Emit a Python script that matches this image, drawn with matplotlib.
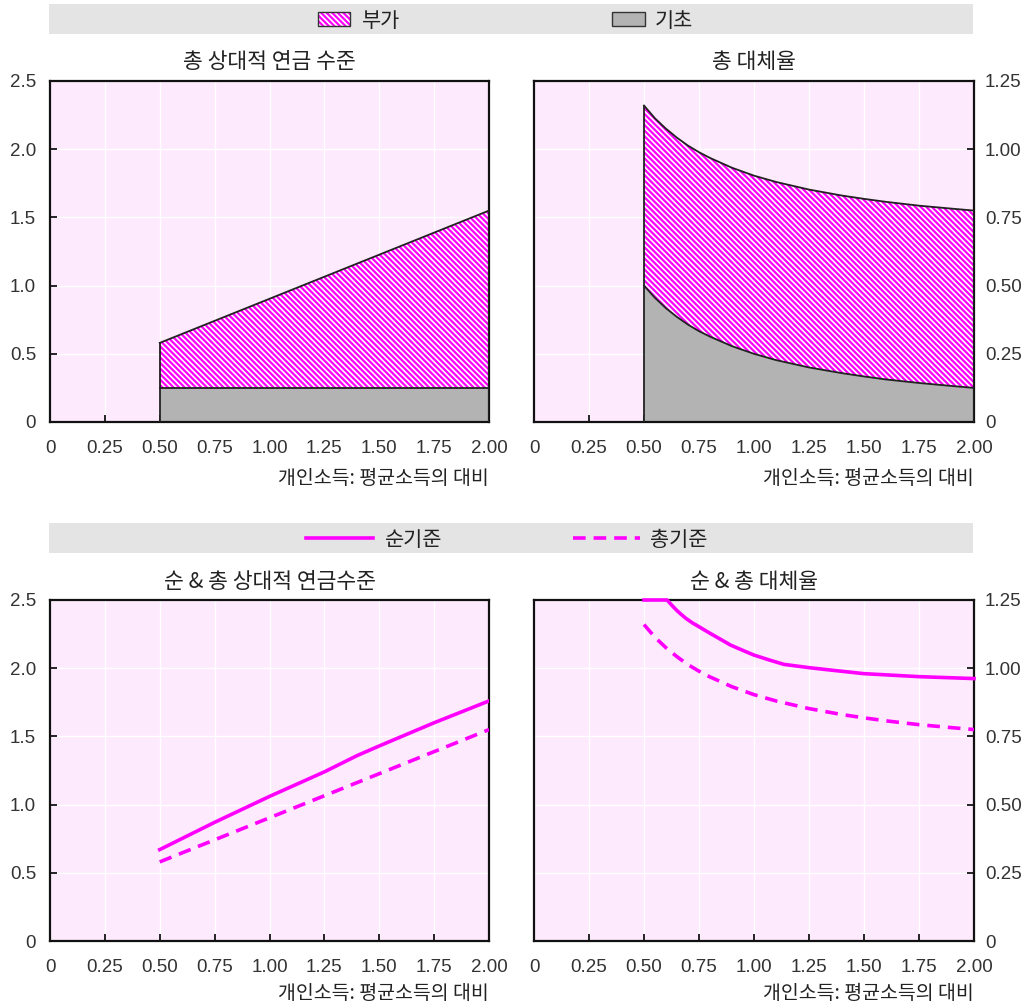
import numpy as np
import matplotlib
matplotlib.use("Agg")
import matplotlib.pyplot as plt
from matplotlib.patches import Rectangle
from matplotlib.lines import Line2D

plt.rcParams['font.family'] = ['Noto Sans CJK KR', 'DejaVu Sans']
plt.rcParams['hatch.linewidth'] = 1.2

# --- data ---
x_level = [0.50, 2.00]
base_level = [0.25, 0.25]          # 기초
gross_level = [0.58, 1.55]         # 부가 top (total gross)

x_rate = [0.50, 0.55, 0.60, 0.65, 0.70, 0.75, 0.80, 0.90, 1.00,
          1.10, 1.25, 1.40, 1.50, 1.60, 1.75, 1.90, 2.00]
base_rate = [0.500, 0.455, 0.417, 0.385, 0.357, 0.333, 0.313, 0.278, 0.250,
             0.227, 0.200, 0.179, 0.167, 0.156, 0.143, 0.132, 0.125]
gross_rate = [1.160, 1.113, 1.075, 1.042, 1.013, 0.989, 0.968, 0.932, 0.903,
              0.880, 0.852, 0.830, 0.818, 0.807, 0.793, 0.782, 0.775]

x_net_level = [0.50, 0.75, 1.00, 1.25, 1.40, 1.50, 1.75, 2.00]
net_level = [0.67, 0.87, 1.06, 1.24, 1.36, 1.43, 1.60, 1.76]

x_net_rate = [0.50, 0.605, 0.625, 0.645, 0.665, 0.69, 0.72, 0.75, 0.80, 0.85,
              0.893, 0.95, 1.00, 1.07, 1.136, 1.25, 1.35, 1.50, 1.75, 2.00]
net_rate = [1.25, 1.25, 1.232, 1.215, 1.200, 1.183, 1.166, 1.152, 1.128, 1.105,
            1.085, 1.065, 1.048, 1.030, 1.014, 1.002, 0.993, 0.980, 0.969, 0.962]

x_ticks = [0, 0.25, 0.5, 0.75, 1.0, 1.25, 1.5, 1.75, 2.0]
x_ticklabels = ["0", "0.25", "0.50", "0.75", "1.00", "1.25", "1.50", "1.75", "2.00"]
lvl_ticks = [0, 0.5, 1.0, 1.5, 2.0, 2.5]
lvl_ticklabels = ["0", "0.5", "1.0", "1.5", "2.0", "2.5"]
rate_ticks = [0, 0.25, 0.5, 0.75, 1.0, 1.25]
rate_ticklabels = ["0", "0.25", "0.50", "0.75", "1.00", "1.25"]

titles = ["총 상대적 연금 수준", "총 대체율", "순 & 총 상대적 연금수준", "순 & 총 대체율"]
xlabel = "개인소득: 평균소득의 대비"

MAG = "#FF00FF"
GRAY = "#B3B3B3"
BG = "#FEEAFD"
BAR = "#E4E4E4"
TXT = "#222222"
TICKFONT = ['Liberation Sans', 'DejaVu Sans']

fig = plt.figure(figsize=(10.29, 10.07), dpi=100)

W, H = 1029, 1007
def px_axes(l, t, r, b):
    return fig.add_axes([l / W, 1 - b / H, (r - l) / W, (b - t) / H])

ax_tl = px_axes(50, 81, 489, 422)
ax_tr = px_axes(534, 81, 974, 422)
ax_bl = px_axes(50, 600, 489, 941)
ax_br = px_axes(534, 600, 974, 941)

def style(ax, yticks, ylabels, right, ymax, title, xlabelpad):
    ax.set_facecolor(BG)
    ax.set_xlim(0, 2.0)
    ax.set_ylim(0, ymax)
    ax.set_xticks(x_ticks)
    ax.set_xticklabels(x_ticklabels, family=TICKFONT)
    ax.set_yticks(yticks)
    ax.set_yticklabels(ylabels, family=TICKFONT)
    ax.grid(True, color="white", linewidth=1.0)
    ax.set_axisbelow(True)
    for s in ax.spines.values():
        s.set_linewidth(1.6)
        s.set_color("#111111")
    ax.tick_params(axis="x", direction="in", length=5, width=1.2, pad=13,
                   labelsize=13.5, labelcolor="#333333")
    if right:
        ax.yaxis.tick_right()
        ax.tick_params(axis="y", direction="in", length=5, width=1.2, pad=8,
                       labelsize=13.5, labelcolor="#333333", left=False, right=True)
    else:
        ax.tick_params(axis="y", direction="in", length=5, width=1.2, pad=10,
                       labelsize=13.5, labelcolor="#333333")
    ax.set_title(title, fontsize=15.5, color=TXT, pad=9)
    ax.set_xlabel(xlabel, loc="right", fontsize=14, color=TXT, labelpad=xlabelpad)

style(ax_tl, lvl_ticks, lvl_ticklabels, False, 2.5, titles[0], 8)
style(ax_tr, rate_ticks, rate_ticklabels, True, 1.25, titles[1], 8)
style(ax_bl, lvl_ticks, lvl_ticklabels, False, 2.5, titles[2], 5)
style(ax_br, rate_ticks, rate_ticklabels, True, 1.25, titles[3], 5)

HATCH = "\\\\\\\\\\\\"

def stacked(ax, x, base, total):
    ax.fill_between(x, 0, base, facecolor=GRAY, edgecolor="none", zorder=2)
    ax.fill_between(x, base, total, facecolor=MAG, edgecolor="white",
                    hatch=HATCH, linewidth=0, zorder=2)
    ax.plot(x, base, color="#222222", lw=1.3, zorder=3)
    ax.plot(x, total, color="#222222", lw=1.3, zorder=3)
    ax.plot([x[0], x[0]], [0, total[0]], color="#222222", lw=1.3, zorder=3)
    ax.plot([x[-1], x[-1]], [0, total[-1]], color="#222222", lw=1.3, zorder=3)

stacked(ax_tl, x_level, base_level, gross_level)
stacked(ax_tr, x_rate, base_rate, gross_rate)

ax_bl.plot(x_net_level, net_level, color=MAG, lw=2.6, zorder=3)
ax_bl.plot(x_level, gross_level, color=MAG, lw=2.6, ls=(0, (3.5, 2.2)), zorder=3)
ax_br.plot(x_net_rate, net_rate, color=MAG, lw=2.6, zorder=3, clip_on=False)
ax_br.plot(x_rate, gross_rate, color=MAG, lw=2.6, ls=(0, (3.5, 2.2)), zorder=3)

# --- legend bars ---
def bar_axes(t, b):
    bx = px_axes(49, t, 973, b)
    bx.set_facecolor(BAR)
    bx.set_xlim(0, 1)
    bx.set_ylim(0, 1)
    bx.set_xticks([])
    bx.set_yticks([])
    for s in bx.spines.values():
        s.set_visible(False)
    return bx

lg1 = bar_axes(4, 34)
lg1.add_patch(Rectangle((0.291, 0.27), 0.035, 0.46, facecolor=MAG, edgecolor="white",
                        hatch=HATCH, linewidth=0))
lg1.add_patch(Rectangle((0.291, 0.27), 0.035, 0.46, facecolor="none",
                        edgecolor="#333333", linewidth=1.0))
lg1.text(0.339, 0.42, "부가", fontsize=15, color=TXT, va="center", ha="left")
lg1.add_patch(Rectangle((0.609, 0.27), 0.036, 0.46, facecolor=GRAY,
                        edgecolor="#333333", linewidth=1.0))
lg1.text(0.656, 0.42, "기초", fontsize=15, color=TXT, va="center", ha="left")

lg2 = bar_axes(523, 553)
lg2.add_line(Line2D([0.278, 0.351], [0.5, 0.5], color=MAG, lw=2.6))
lg2.text(0.364, 0.42, "순기준", fontsize=15, color=TXT, va="center", ha="left")
lg2.add_line(Line2D([0.567, 0.640], [0.5, 0.5], color=MAG, lw=2.6, ls=(0, (3.5, 2.2))))
lg2.text(0.650, 0.42, "총기준", fontsize=15, color=TXT, va="center", ha="left")

fig.savefig("out.png", dpi=100)
